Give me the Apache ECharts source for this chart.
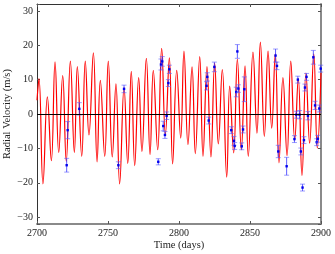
<!DOCTYPE html>
<html>
<head>
<meta charset="utf-8">
<script src="https://cdn.jsdelivr.net/npm/echarts@6/dist/echarts.min.js"></script>
<style>
html,body{margin:0;padding:0;background:#fff;}
#chart{width:335px;height:254px;}
</style>
</head>
<body>
<div id="chart"></div>
<script>
// Model curve (extrema)
var curveDays = [2700.0, 2701.4, 2704.2, 2707.3, 2710.1, 2712.7, 2715.3, 2718.1, 2720.6, 2723.5, 2726.3, 2728.4, 2731.5, 2734.0, 2736.6, 2739.7, 2742.3, 2744.6, 2747.7, 2750.2, 2753.0, 2755.6, 2758.2, 2761.3, 2763.9, 2766.4, 2768.8, 2771.6, 2773.9, 2777.0, 2779.6, 2781.9, 2785.0, 2787.8, 2790.4, 2793.2, 2795.5, 2798.4, 2801.2, 2803.5, 2806.3, 2809.2, 2811.5, 2814.6, 2816.9, 2819.7, 2822.5, 2825.1, 2827.7, 2830.5, 2833.6, 2835.7, 2838.5, 2841.1, 2843.9, 2846.5, 2848.8, 2852.1, 2854.9, 2857.3, 2860.1, 2862.7, 2865.3, 2867.8, 2870.4, 2873.2, 2876.1, 2878.7, 2881.5, 2884.0, 2886.6, 2889.4, 2892.0, 2894.9, 2897.4, 2900.0];
var curveVel = [4, 10.3, -20.3, 5.0, -13.6, 15.2, -11.2, 11.2, -13.8, 15.4, -11.2, 13.8, -12.3, 15.4, -6.1, 17.8, -13.9, 9.8, -12.3, 15.4, -12.5, 8.8, -20.3, 7.7, -14.4, 12.4, -15.0, 10.6, -10.9, 16.2, -11.8, 12.7, -10.4, 19.1, -6.0, 16.3, -14.5, 12.7, -7.0, 18.3, -8.9, 13.7, -11.5, 16.7, -12.3, 13.8, -12.5, 14.8, -8.7, 12.9, -18.4, 8.1, -11.3, 16.0, -10.4, 14.0, -12.3, 18.0, -5.6, 20.9, -6.5, 18.3, -4.1, 17.5, -14.2, 10.6, -12.1, 15.4, -7.5, 10.3, -17.9, 11.9, -8.5, 17.5, -9.9, 12];

// Observations
var obsDays = [2720.9, 2721.6, 2729.8, 2757.3, 2761.3, 2785.4, 2787.3, 2788.2, 2788.9, 2790.1, 2791.3, 2792.5, 2793.2, 2819.4, 2819.9, 2820.9, 2824.9, 2836.8, 2838.7, 2839.2, 2840.3, 2841.1, 2841.8, 2844.2, 2845.1, 2846.0, 2868.0, 2869.0, 2869.9, 2875.8, 2881.3, 2882.6, 2883.7, 2884.9, 2885.8, 2887.0, 2888.0, 2888.7, 2889.8, 2890.8, 2894.6, 2895.8, 2897.0, 2897.7, 2898.8, 2899.8];
var obsVel = [-14.9, -4.7, 1.5, -14.9, 7.3, -13.9, 14.4, 15.3, -3.5, -6.1, -0.5, 9.0, 13.0, 8.2, 10.8, -1.9, 13.7, -4.7, -7.8, -9.3, 6.4, 18.2, 7.4, -9.4, -4.5, 7.2, 17.0, 14.0, -10.9, -15.2, -7.3, -0.2, 10.0, -0.2, -10.9, -21.4, -7.6, 7.7, 10.8, -0.5, 16.5, 2.5, -8.2, -7.2, 1.6, 13.2];
var obsErr = [2.0, 2.5, 1.8, 1.0, 1.1, 0.9, 1.6, 1.4, 1.4, 1.0, 1.1, 1.0, 1.2, 1.2, 1.2, 1.0, 1.4, 1.0, 1.3, 1.0, 1.4, 2.0, 1.1, 1.0, 1.0, 3.6, 1.9, 1.1, 1.8, 2.6, 1.0, 1.0, 1.0, 1.2, 1.0, 1.0, 1.0, 1.0, 1.0, 1.2, 2.0, 1.2, 1.0, 1.0, 1.0, 1.0];

var xTicks = [2700, 2750, 2800, 2850, 2900];
var yTicks = [-30, -20, -10, 0, 10, 20, 30];

var curveData = curveDays.map(function (d, i) { return [d, curveVel[i]]; });
var obsData = obsDays.map(function (d, i) { return [d, obsVel[i], obsErr[i]]; });

var FONT = 'Liberation Serif';
function yFmt(v) {
  if (yTicks.indexOf(v) < 0) return '';
  return v < 0 ? '\u2212' + Math.abs(v) : String(v);
}

var chart = echarts.init(document.getElementById('chart'), null, {renderer: 'canvas'});
chart.setOption({
  animation: false,
  backgroundColor: '#fff',
  grid: {left: 37, right: 14, top: 4, bottom: 30, containLabel: false, outerBoundsMode: 'none'},
  xAxis: [{
    type: 'value', min: 2700, max: 2900, interval: 50, position: 'bottom',
    axisLine: {show: true, onZero: false, lineStyle: {color: '#8a8a8a', width: 2}},
    axisTick: {show: true, inside: true, length: 3, lineStyle: {color: '#555'}},
    axisLabel: {color: '#222', fontFamily: FONT, fontSize: 10, margin: 4,
      formatter: function (v) { return xTicks.indexOf(v) >= 0 ? String(v) : ''; }},
    splitLine: {show: false},
    name: 'Time (days)', nameLocation: 'middle', nameGap: 16, nameMoveOverlap: false,
    nameTextStyle: {color: '#222', fontFamily: FONT, fontSize: 10.5}
  }, {
    type: 'value', min: 2700, max: 2900, interval: 50, position: 'top',
    axisLine: {show: true, onZero: false, lineStyle: {color: '#333', width: 1}},
    axisTick: {show: true, inside: true, length: 3, lineStyle: {color: '#555'}},
    axisLabel: {show: false}, splitLine: {show: false}
  }],
  yAxis: [{
    type: 'value', min: -32, max: 32, splitNumber: 6, position: 'left',
    axisLine: {show: true, onZero: false, lineStyle: {color: '#333', width: 1}},
    axisTick: {show: true, inside: true, length: 3, lineStyle: {color: '#555'}},
    axisLabel: {color: '#222', fontFamily: FONT, fontSize: 10, margin: 4, formatter: yFmt},
    splitLine: {show: false},
    name: 'Radial Velocity (m/s)', nameLocation: 'middle', nameGap: 24, nameRotate: 90, nameMoveOverlap: false,
    nameTextStyle: {color: '#222', fontFamily: FONT, fontSize: 10.5}
  }, {
    type: 'value', min: -32, max: 32, splitNumber: 6, position: 'right',
    axisLine: {show: true, onZero: false, lineStyle: {color: '#8a8a8a', width: 2}},
    axisTick: {show: true, inside: true, length: 3, lineStyle: {color: '#555'}},
    axisLabel: {show: false}, splitLine: {show: false}
  }],
  series: [{
    type: 'line', data: curveData, xAxisIndex: 0, yAxisIndex: 0,
    smooth: 0.45, showSymbol: false, symbol: 'none',
    lineStyle: {color: '#ff0000', width: 1.2},
    markLine: {
      silent: true, symbol: 'none', label: {show: false},
      lineStyle: {color: '#000', width: 1, type: 'solid'},
      data: [{yAxis: 0}]
    },
    z: 2
  }, {
    type: 'custom', data: obsData, xAxisIndex: 0, yAxisIndex: 0, z: 3,
    renderItem: function (params, api) {
      var x = api.value(0), y = api.value(1), e = api.value(2);
      var p = api.coord([x, y]);
      var hi = api.coord([x, y + e]);
      var lo = api.coord([x, y - e]);
      var w = 2.5;
      return {
        type: 'group',
        children: [
          {type: 'line', shape: {x1: p[0], y1: hi[1], x2: p[0], y2: lo[1]}, style: {stroke: 'rgba(40,40,255,0.75)', lineWidth: 1}},
          {type: 'line', shape: {x1: p[0] - w, y1: hi[1], x2: p[0] + w, y2: hi[1]}, style: {stroke: 'rgba(90,90,255,0.6)', lineWidth: 1}},
          {type: 'line', shape: {x1: p[0] - w, y1: lo[1], x2: p[0] + w, y2: lo[1]}, style: {stroke: 'rgba(90,90,255,0.6)', lineWidth: 1}},
          {type: 'rect', shape: {x: p[0] - 1.2, y: p[1] - 1.2, width: 2.4, height: 2.4}, style: {fill: '#0000ee'}}
        ]
      };
    }
  }]
});
</script>
</body>
</html>
